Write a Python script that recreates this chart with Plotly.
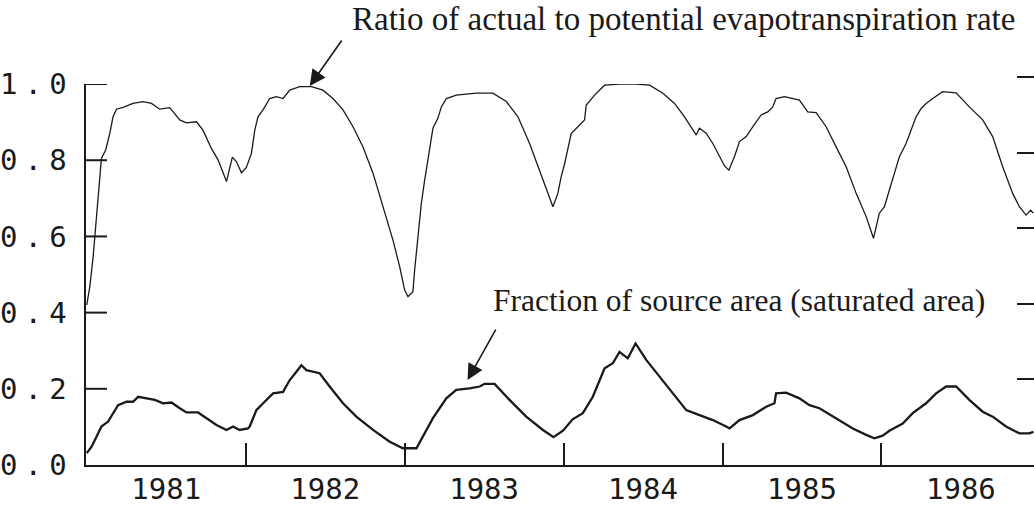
import plotly.graph_objects as go

# ---- data (decimal years) ----
ratio_years = [1981.000, 1981.019, 1981.040, 1981.061, 1981.082, 1981.092, 1981.119, 1981.145, 1981.165, 1981.187,
               1981.228, 1981.291, 1981.354, 1981.407, 1981.459, 1981.522, 1981.585, 1981.627, 1981.690, 1981.731,
               1981.784, 1981.826, 1981.879, 1981.916, 1981.942, 1981.973, 1982.004, 1982.036, 1982.057, 1982.077,
               1982.109, 1982.151, 1982.193, 1982.235, 1982.277, 1982.340, 1982.413, 1982.486, 1982.549, 1982.612,
               1982.675, 1982.738, 1982.801, 1982.864, 1982.926, 1982.969, 1983.000, 1983.021, 1983.052, 1983.063,
               1983.084, 1983.105, 1983.126, 1983.157, 1983.178, 1983.209, 1983.231, 1983.262, 1983.325, 1983.451,
               1983.555, 1983.640, 1983.713, 1983.786, 1983.849, 1983.901, 1983.933, 1983.964, 1983.985, 1984.006,
               1984.027, 1984.048, 1984.090, 1984.132, 1984.143, 1984.195, 1984.258, 1984.352, 1984.457, 1984.541,
               1984.625, 1984.698, 1984.761, 1984.813, 1984.835, 1984.855, 1984.897, 1984.939, 1984.981, 1985.013,
               1985.040, 1985.075, 1985.107, 1985.149, 1985.191, 1985.243, 1985.285, 1985.316, 1985.337, 1985.390,
               1985.484, 1985.536, 1985.589, 1985.652, 1985.715, 1985.778, 1985.841, 1985.904, 1985.950, 1985.977,
               1985.987, 1986.019, 1986.040, 1986.050, 1986.082, 1986.113, 1986.155, 1986.187, 1986.218, 1986.250,
               1986.281, 1986.323, 1986.385, 1986.470, 1986.553, 1986.637, 1986.700, 1986.763, 1986.826, 1986.868,
               1986.910, 1986.939, 1986.956]
ratio_values = [0.420, 0.468, 0.547, 0.643, 0.757, 0.805, 0.827, 0.871, 0.914, 0.934,
                0.939, 0.949, 0.954, 0.949, 0.934, 0.938, 0.906, 0.898, 0.901, 0.879,
                0.831, 0.801, 0.744, 0.808, 0.796, 0.767, 0.781, 0.818, 0.879, 0.914,
                0.932, 0.962, 0.967, 0.962, 0.984, 0.993, 0.993, 0.984, 0.962, 0.932,
                0.888, 0.835, 0.766, 0.678, 0.591, 0.520, 0.459, 0.442, 0.455, 0.512,
                0.599, 0.687, 0.748, 0.835, 0.884, 0.910, 0.940, 0.962, 0.971, 0.976,
                0.976, 0.954, 0.914, 0.844, 0.774, 0.713, 0.678, 0.713, 0.757, 0.790,
                0.827, 0.870, 0.888, 0.906, 0.945, 0.971, 0.997, 1.000, 1.000, 0.997,
                0.976, 0.949, 0.914, 0.879, 0.866, 0.884, 0.871, 0.844, 0.812, 0.785,
                0.774, 0.809, 0.849, 0.862, 0.888, 0.919, 0.927, 0.940, 0.962, 0.967,
                0.958, 0.927, 0.925, 0.888, 0.835, 0.783, 0.713, 0.652, 0.595, 0.643,
                0.661, 0.678, 0.713, 0.722, 0.766, 0.809, 0.844, 0.879, 0.914, 0.936,
                0.949, 0.962, 0.980, 0.977, 0.940, 0.906, 0.862, 0.783, 0.713, 0.678,
                0.656, 0.669, 0.661]

source_years = [1981.000, 1981.030, 1981.061, 1981.092, 1981.134, 1981.165, 1981.197, 1981.250, 1981.291, 1981.323,
                1981.375, 1981.428, 1981.480, 1981.533, 1981.585, 1981.627, 1981.700, 1981.753, 1981.816, 1981.879,
                1981.920, 1981.962, 1982.014, 1982.025, 1982.067, 1982.119, 1982.172, 1982.235, 1982.277, 1982.319,
                1982.350, 1982.382, 1982.465, 1982.528, 1982.612, 1982.696, 1982.801, 1982.906, 1982.989, 1983.074,
                1983.115, 1983.178, 1983.262, 1983.325, 1983.409, 1983.472, 1983.503, 1983.566, 1983.660, 1983.765,
                1983.870, 1983.937, 1983.996, 1984.057, 1984.121, 1984.184, 1984.258, 1984.310, 1984.352, 1984.404,
                1984.453, 1984.520, 1984.604, 1984.687, 1984.772, 1984.855, 1984.939, 1985.023, 1985.044, 1985.107,
                1985.191, 1985.275, 1985.327, 1985.337, 1985.400, 1985.484, 1985.547, 1985.610, 1985.715, 1985.820,
                1985.904, 1985.956, 1986.008, 1986.050, 1986.134, 1986.197, 1986.281, 1986.344, 1986.407, 1986.470,
                1986.553, 1986.637, 1986.700, 1986.784, 1986.868, 1986.931, 1986.956]
source_values = [0.031, 0.048, 0.074, 0.101, 0.114, 0.136, 0.157, 0.166, 0.166, 0.179,
                 0.175, 0.171, 0.162, 0.164, 0.149, 0.138, 0.138, 0.123, 0.105, 0.092,
                 0.101, 0.092, 0.096, 0.101, 0.144, 0.166, 0.188, 0.192, 0.223, 0.245,
                 0.262, 0.249, 0.241, 0.206, 0.162, 0.127, 0.092, 0.061, 0.044, 0.044,
                 0.074, 0.123, 0.175, 0.197, 0.201, 0.206, 0.213, 0.213, 0.171, 0.127,
                 0.092, 0.073, 0.090, 0.120, 0.136, 0.179, 0.254, 0.267, 0.297, 0.280,
                 0.319, 0.276, 0.232, 0.188, 0.144, 0.131, 0.118, 0.101, 0.096, 0.118,
                 0.131, 0.153, 0.162, 0.188, 0.190, 0.175, 0.157, 0.149, 0.123, 0.096,
                 0.079, 0.070, 0.077, 0.090, 0.109, 0.136, 0.162, 0.188, 0.206, 0.206,
                 0.171, 0.140, 0.127, 0.101, 0.083, 0.083, 0.087]

year_labels = ["1981", "1982", "1983", "1984", "1985", "1986"]
year_label_pos = [1981.5, 1982.5, 1983.5, 1984.5, 1985.5, 1986.5]
year_boundaries = [1982, 1983, 1984, 1985, 1986]
y_tick_vals = [0.0, 0.2, 0.4, 0.6, 0.8, 1.0]
y_tick_labels = ["0.0", "0.2", "0.4", "0.6", "0.8", "1.0"]
y_tick_marks = [0.2, 0.4, 0.6, 0.8, 1.0]
right_tick_vals = [0.2, 0.4, 0.6, 0.8, 1.0]

label_ratio = "Ratio of actual to potential evapotranspiration rate"
label_source = "Fraction of source area (saturated area)"

INK = "#1a1a1a"
W, H = 1034, 510
ML, MR, MT, MB = 86, 0, 76, 45
plot_w = W - ML - MR
plot_h = H - MT - MB
AXIS_BOTTOM_PX = H - MB          # pixel row of y = 0
AXIS_TOP_PX = 84                 # pixel row of y = 1.0
Y_DOMAIN = [0, (AXIS_BOTTOM_PX - AXIS_TOP_PX) / plot_h]
LEFT_TICK_LEN = 21

sp = "<span style='font-size:12px'>\u00a0</span>"
pad = "<span style='font-size:19px'>\u00a0</span>"
y_tick_text = [t.replace(".", sp + "." + sp) + pad for t in y_tick_labels]

fig = go.Figure()
fig.add_trace(go.Scatter(x=ratio_years, y=ratio_values, mode="lines",
                         line=dict(color=INK, width=1.3), showlegend=False))
fig.add_trace(go.Scatter(x=source_years, y=source_values, mode="lines",
                         line=dict(color=INK, width=2.3), showlegend=False))
fig.add_trace(go.Scatter(x=[], y=[], xaxis="x", yaxis="y2", showlegend=False, hoverinfo="skip"))

fig.update_layout(
    width=W, height=H,
    margin=dict(l=ML, r=MR, t=MT, b=MB, autoexpand=False),
    paper_bgcolor="white", plot_bgcolor="rgba(0,0,0,0)",
    showlegend=False,
    xaxis=dict(
        range=[1980.995, 1986.96], anchor="y",
        tickvals=year_label_pos, ticktext=year_labels, ticks="",
        tickfont=dict(family="DejaVu Sans Mono", size=29, color=INK),
        ticklabelstandoff=-3, automargin=False,
        showline=True, linecolor=INK, linewidth=2,
        showgrid=False, zeroline=False,
        minor=dict(tickvals=year_boundaries, ticks="inside", ticklen=22, tickwidth=2,
                   tickcolor=INK, showgrid=False),
    ),
    yaxis=dict(
        range=[0, 1.0001], domain=Y_DOMAIN,
        tickmode="array", tickvals=y_tick_vals, ticktext=y_tick_text, ticks="",
        tickfont=dict(family="DejaVu Sans Mono", size=29, color=INK),
        automargin=False,
        showline=True, linecolor=INK, linewidth=2,
        showgrid=False, zeroline=False,
    ),
    # partial axis visible at the right edge
    yaxis2=dict(
        range=[0, 1.0001], domain=[(AXIS_BOTTOM_PX - 454.8) / plot_h, (AXIS_BOTTOM_PX - 77.3) / plot_h],
        anchor="free", position=1.0, side="right", automargin=False,
        tickvals=right_tick_vals, ticks="",
        showticklabels=False, showline=False, showgrid=False, zeroline=False,
        minor=dict(tickvals=right_tick_vals, ticks="inside", ticklen=17, tickwidth=2,
                   tickcolor=INK, showgrid=False),
    ),
)

# inside tick marks of the left axis (drawn relative to the x domain, at the y tick values)
for v in y_tick_marks:
    fig.add_shape(type="line", xref="x domain", yref="y",
                  x0=0, x1=LEFT_TICK_LEN / plot_w, y0=v, y1=v,
                  line=dict(color=INK, width=2))

# text labels
fig.add_annotation(text=label_ratio, xref="paper", yref="paper",
                   x=(350 - ML) / plot_w, y=(AXIS_BOTTOM_PX - 19) / plot_h,
                   xanchor="left", yanchor="middle", showarrow=False,
                   font=dict(family="Liberation Serif", size=33, color=INK))
fig.add_annotation(text=label_source, xref="paper", yref="paper",
                   x=(491 - ML) / plot_w, y=(AXIS_BOTTOM_PX - 300) / plot_h,
                   xanchor="left", yanchor="middle", showarrow=False,
                   font=dict(family="Liberation Serif", size=31.5, color=INK))
# arrows pointing at curve peaks
fig.add_annotation(text="", x=1982.403, y=0.995, xref="x", yref="y",
                   showarrow=True, ax=33, ay=-47, arrowhead=2, arrowsize=2.0,
                   arrowwidth=1.6, arrowcolor=INK)
fig.add_annotation(text="", x=1983.396, y=0.223, xref="x", yref="y",
                   showarrow=True, ax=29, ay=-52, arrowhead=2, arrowsize=2.0,
                   arrowwidth=1.6, arrowcolor=INK)

fig.write_html("out.html",
               config={"displayModeBar": False},
               post_script="document.body.style.margin='0';document.body.style.overflow='hidden';")
